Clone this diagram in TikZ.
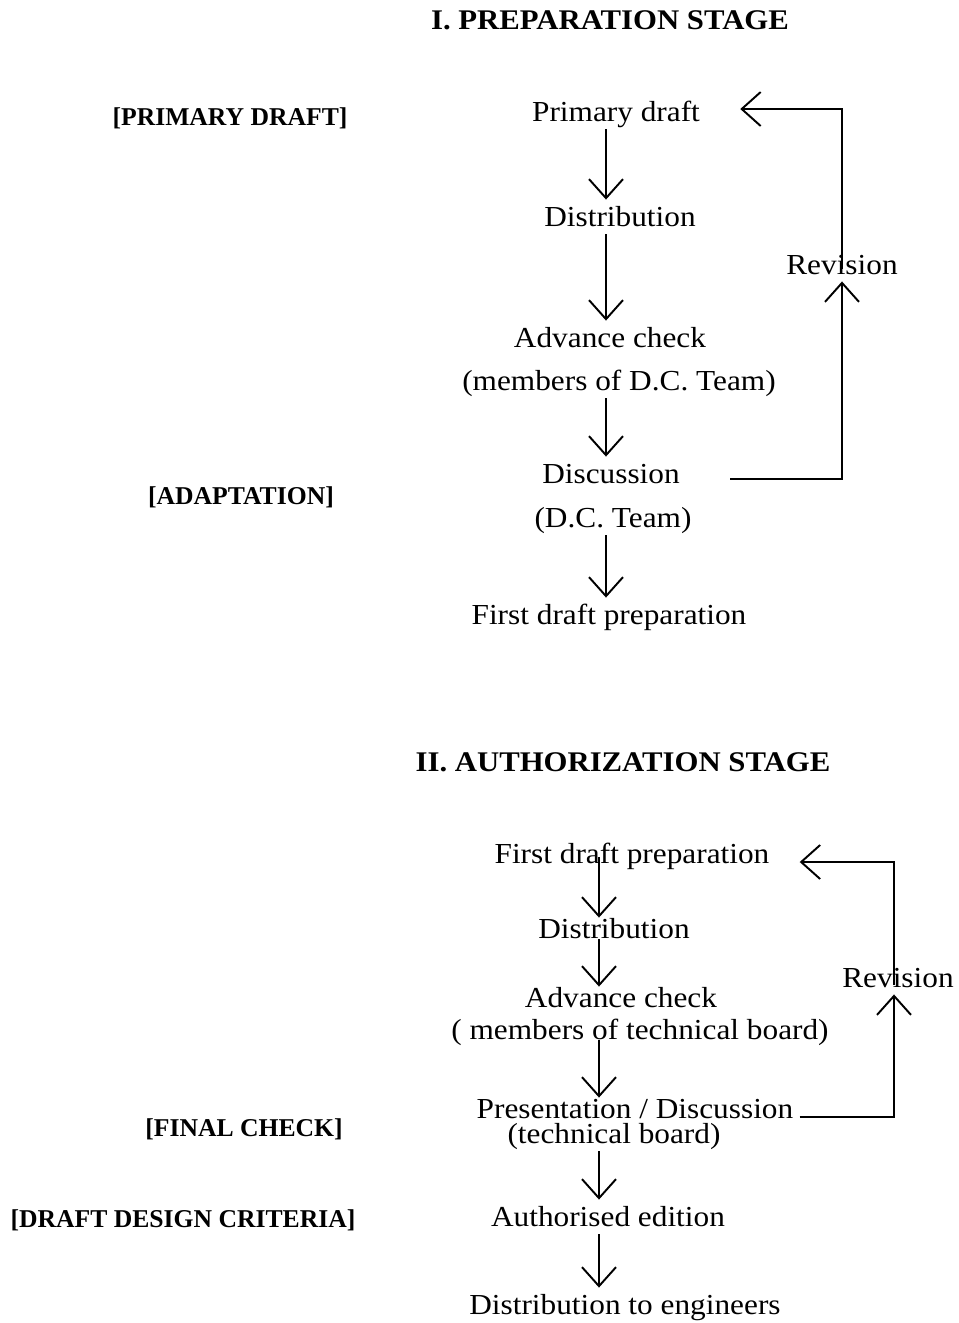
\documentclass[tikz,border=0pt]{standalone}
\usepackage{fontspec}
\setmainfont{Liberation Serif}
\newfontfamily\bodyfont{Liberation Serif}[FakeStretch=1.08]
\usetikzlibrary{arrows.meta}

\begin{document}
\begin{tikzpicture}
[x=0.02cm,y=-0.02cm,
txt/.style={draw=none,inner sep=0pt,text height=0.7em,text depth=0.22em,font=\bodyfont\fontsize{16.5}{19}\selectfont},
head/.style={txt,font=\bodyfont\fontsize{16.2}{19}\selectfont\bfseries},
tag/.style={txt,font=\fontsize{14.6}{17}\selectfont\bfseries},
flow/.style={line width=1.1pt,-{Straight Barb[length=0.38cm,width=0.68cm]}},
down/.style={flow,shorten <=0.08cm,shorten >=0.28cm},
tight/.style={flow,shorten <=-0.06cm,shorten >=0.16cm}]
\useasboundingbox (0,0) rectangle (959,1323);

% first stage
\node[head] (h1) at (610,25) {I. PREPARATION STAGE};
\node[tag] (t1) at (230,121) {[PRIMARY DRAFT]};
\node[txt] (prim) at (616,117) {Primary draft};
\node[txt] (dist1) at (620,222) {Distribution};
\node[txt] (adv1) at (610,343) {Advance check};
\node[txt] (mem1) at (619,386) {(members of D.C. Team)};
\node[tag] (t2) at (241,500) {[ADAPTATION]};
\node[txt] (disc1) at (611,479) {Discussion};
\node[txt] (team1) at (613,523) {(D.C. Team)};
\node[txt] (first1) at (609,620) {First draft preparation};
\node[txt] (rev1) at (842,270) {Revision};
\coordinate (a1) at (606,0);

\draw[down] (prim.south -| a1) -- (dist1.north -| a1);
\draw[down] (dist1.south -| a1) -- (adv1.north -| a1);
\draw[down] (mem1.south -| a1) -- (disc1.north -| a1);
\draw[down] (team1.south -| a1) -- (first1.north -| a1);
\draw[flow,shorten >=0.06cm] ([xshift=1cm]disc1.east) -| (rev1.south);
\draw[flow,shorten <=-0.14cm] (rev1.north) |- ([xshift=0.8cm,yshift=0.16cm]prim.east);

% second stage
\node[head] (h2) at (623,767) {II. AUTHORIZATION STAGE};
\node[txt] (first2) at (632,859) {First draft preparation};
\node[txt] (dist2) at (614,934) {Distribution};
\node[txt] (adv2) at (621,1003) {Advance check};
\node[txt] (mem2) at (640,1035) {( members of technical board)};
\node[tag] (t3) at (244,1132) {[FINAL CHECK]};
\node[txt] (pres) at (635,1114) {Presentation / Discussion};
\node[txt] (board) at (614,1139) {(technical board)};
\node[tag] (t4) at (183,1223) {[DRAFT DESIGN CRITERIA]};
\node[txt] (auth) at (608,1222) {Authorised edition};
\node[txt] (eng) at (625,1310) {Distribution to engineers};
\node[txt] (rev2) at (898,983) {Revision};
\coordinate (a2) at (599,0);

\draw[tight,shorten <=-0.2cm] (first2.south -| a2) -- (dist2.north -| a2);
\draw[tight] (dist2.south -| a2) -- (adv2.north -| a2);
\draw[tight] (mem2.south -| a2) -- (pres.north -| a2);
\draw[down] (board.south -| a2) -- (auth.north -| a2);
\draw[down] (auth.south -| a2) -- (eng.north -| a2);
\draw[flow,shorten >=0.06cm] ([xshift=0.12cm,yshift=-0.06cm]pres.east) -| ([xshift=-0.08cm]rev2.south);
\draw[flow,shorten <=-0.2cm] ([xshift=-0.08cm]rev2.north) |- ([xshift=0.6cm,yshift=-0.06cm]first2.east);

\end{tikzpicture}
\end{document}
